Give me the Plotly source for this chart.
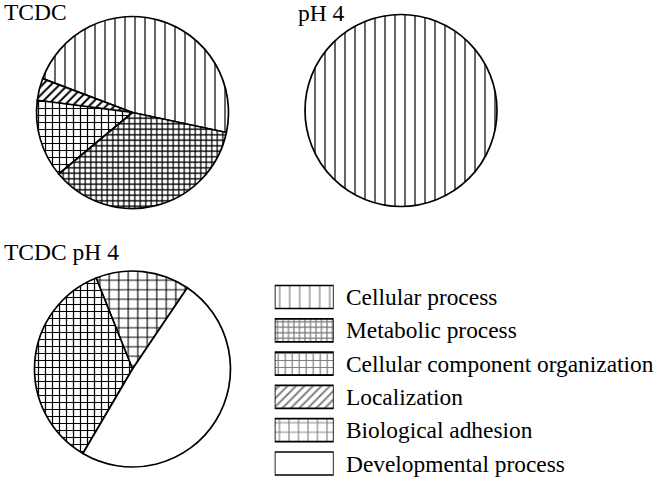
import plotly.graph_objects as go

# Categories (legend order)
categories = [
    "Cellular process",
    "Metabolic process",
    "Cellular component organization",
    "Localization",
    "Biological adhesion",
    "Developmental process",
]

# Pie data (percent of proteins), slice order counterclockwise
tcdc_labels = ["Cellular process", "Localization", "Cellular component organization", "Metabolic process"]
tcdc_values = [47.6, 3.7, 13.1, 35.6]

ph4_labels = ["Cellular process"]
ph4_values = [100]

tcdc_ph4_labels = ["Biological adhesion", "Cellular component organization", "Developmental process"]
tcdc_ph4_values = [15.5, 35.5, 49.0]

titles = ["TCDC", "pH 4", "TCDC pH 4"]

W, H = 657, 479
FONT = "Liberation Serif, Times New Roman, serif"

# hatch style per category: (shape, spacing, solidity)
patterns = {
    "Cellular process": ("|", 10, 0.12),
    "Metabolic process": ("+", 5.5, 0.4),
    "Cellular component organization": ("+", 7, 0.32),
    "Localization": ("/", 6, 0.32),
    "Biological adhesion": ("+", 9.5, 0.22),
    "Developmental process": ("", 8, 0.2),
}


def pie_domain(cx, cy, r):
    return dict(x=[(cx - r) / W, (cx + r) / W], y=[1 - (cy + r) / H, 1 - (cy - r) / H])


def pie_trace(labels, values, cx, cy, r, start_deg):
    # start_deg: math angle where the first slice begins, slices go counterclockwise
    return go.Pie(
        labels=labels,
        values=values,
        sort=False,
        direction="counterclockwise",
        rotation=90 - start_deg - 360 * values[0] / sum(values),
        textinfo="none",
        hoverinfo="label+percent",
        showlegend=False,
        domain=pie_domain(cx, cy, r),
        marker=dict(
            colors=["white"] * len(labels),
            line=dict(color="black", width=1.7),
            pattern=dict(
                shape=[patterns[l][0] for l in labels],
                size=[patterns[l][1] for l in labels],
                solidity=[patterns[l][2] for l in labels],
                fgcolor="black",
                bgcolor="white",
            ),
        ),
    )


fig = go.Figure()
fig.add_trace(pie_trace(tcdc_labels, tcdc_values, 132.5, 112.5, 96, -12))
fig.add_trace(pie_trace(ph4_labels, ph4_values, 401, 110.5, 96, 0))
fig.add_trace(pie_trace(tcdc_ph4_labels, tcdc_ph4_values, 132.5, 369, 98, 56))

# Legend drawn as hatched swatches on a hidden axis
row0, pitch, sw_h = 297, 33.3, 23
span = H / pitch
top = -row0 / pitch
fig.add_trace(go.Bar(
    x=[1] * len(categories),
    y=list(range(len(categories))),
    base=0,
    orientation="h",
    width=sw_h / pitch,
    xaxis="x",
    yaxis="y",
    showlegend=False,
    hoverinfo="skip",
    marker=dict(
        color="white",
        line=dict(color="black", width=1.7),
        pattern=dict(
            shape=[patterns[c][0] for c in categories],
            size=[patterns[c][1] for c in categories],
            solidity=[patterns[c][2] for c in categories],
            fgcolor="black",
            bgcolor="white",
        ),
    ),
))

for i, c in enumerate(categories):
    fig.add_annotation(
        x=344 / W, xref="paper", y=i, yref="y",
        text=c, showarrow=False, xanchor="left", yanchor="middle",
        font=dict(family=FONT, size=23.4, color="black"),
    )

title_pos = [(1.5, 11.5), (296, 12.5), (2, 252)]
for t, (tx, ty) in zip(titles, title_pos):
    fig.add_annotation(
        x=tx / W, y=1 - ty / H, xref="paper", yref="paper",
        text=t, showarrow=False, xanchor="left", yanchor="middle",
        font=dict(family=FONT, size=23.5, color="black"),
    )

fig.update_layout(
    width=W, height=H,
    margin=dict(l=0, r=0, t=0, b=0),
    paper_bgcolor="white",
    plot_bgcolor="rgba(0,0,0,0)",
    xaxis=dict(domain=[274.7 / W, 333.7 / W], range=[0, 1], visible=False, fixedrange=True),
    yaxis=dict(domain=[0, 1], range=[top + span, top], visible=False, fixedrange=True),
    font=dict(family=FONT),
)

# drop the default page margin so the figure fills the window
fig.write_html(
    "out.html",
    config={"displayModeBar": False},
    post_script="document.body.style.margin = '0';",
)
